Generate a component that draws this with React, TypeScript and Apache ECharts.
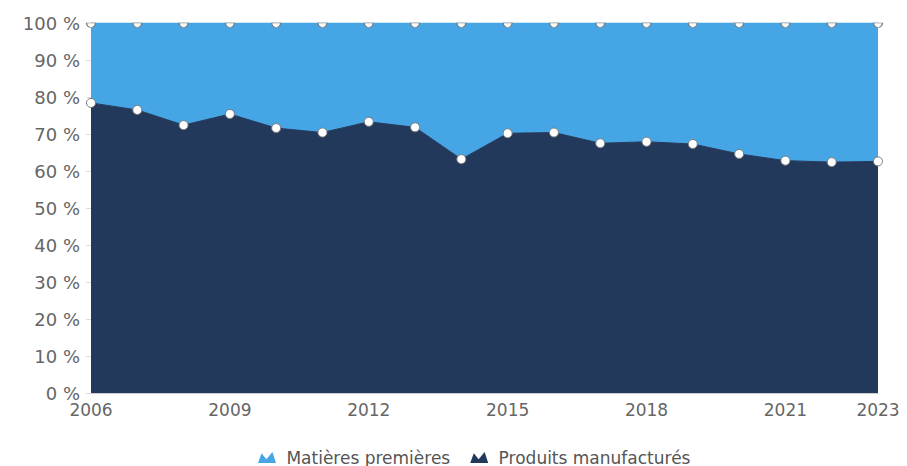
import React, { useEffect, useRef } from "react";
import * as echarts from "echarts";

const years = ["2006","2007","2008","2009","2010","2011","2012","2013","2014","2015","2016","2017","2018","2019","2020","2021","2022","2023"];
const produits = [78.4, 76.5, 72.4, 75.4, 71.6, 70.4, 73.3, 71.8, 63.2, 70.2, 70.4, 67.5, 67.9, 67.3, 64.6, 62.8, 62.4, 62.6];
const matieres = [21.6, 23.5, 27.6, 24.6, 28.4, 29.6, 26.7, 28.2, 36.8, 29.8, 29.6, 32.5, 32.1, 32.7, 35.4, 37.2, 37.6, 37.4];

const DARK = "#23395c";
const LIGHT = "#46a6e5";
const ICON = "path://M0,9 L3,1 L7,6 L12,0 L15,9 Z";
const HALF = "path://M0,0 A5,5 0 0 0 10,0 Z";

export default function App() {
  const ref = useRef<HTMLDivElement>(null);
  useEffect(() => {
    if (!ref.current) return;
    const chart = echarts.init(ref.current, null, { renderer: "svg" });
    const markerStyle = { color: "#ffffff", borderColor: "#7a7a7a", borderWidth: 1 };
    chart.setOption({
      animation: false,
      textStyle: { fontFamily: "DejaVu Sans" },
      grid: { left: 91, right: 29, top: 23, bottom: 73 },
      legend: {
        left: 253,
        top: 444,
        itemWidth: 18,
        itemHeight: 11,
        itemGap: 20,
        formatter: (name: string) => " " + name,
        data: [
          { name: "Matières premières", icon: ICON, itemStyle: { color: LIGHT, borderWidth: 0 } },
          { name: "Produits manufacturés", icon: ICON, itemStyle: { color: DARK, borderWidth: 0 } },
        ],
        textStyle: { color: "#555555", fontSize: 17, fontFamily: "DejaVu Sans" },
      },
      xAxis: {
        type: "category",
        data: years,
        boundaryGap: false,
        axisLine: { lineStyle: { color: "#cccccc" } },
        axisTick: { show: false },
        axisLabel: {
          color: "#666666",
          fontSize: 17,
          margin: 8,
          interval: (i: number) => i % 3 === 0 || i === years.length - 1,
        },
      },
      yAxis: {
        type: "value",
        min: 0,
        max: 100,
        interval: 10,
        axisLine: { show: false },
        axisTick: { show: true, length: 5, lineStyle: { color: "#dddddd" } },
        splitLine: { show: true, lineStyle: { color: "#eeeeee" } },
        axisLabel: {
          color: "#666666",
          fontSize: 18,
          margin: 11,
          formatter: "{value} %",
        },
      },
      series: [
        {
          name: "Produits manufacturés",
          type: "line",
          stack: "total",
          data: produits,
          z: 3,
          lineStyle: { color: DARK, width: 1 },
          areaStyle: { color: DARK, opacity: 1 },
          symbol: "circle",
          symbolSize: 9,
          itemStyle: markerStyle,
        },
        {
          name: "Matières premières",
          type: "line",
          stack: "total",
          data: matieres,
          z: 2,
          lineStyle: { color: LIGHT, width: 1 },
          areaStyle: { color: LIGHT, opacity: 1 },
          symbol: HALF,
          symbolSize: [9, 4.5],
          symbolOffset: [0, 2.25],
          itemStyle: markerStyle,
        },
      ],
    });
    return () => chart.dispose();
  }, []);
  return (
    <div
      ref={ref}
      style={{ position: "absolute", left: 0, top: 0, width: 907, height: 466 }}
    />
  );
}
